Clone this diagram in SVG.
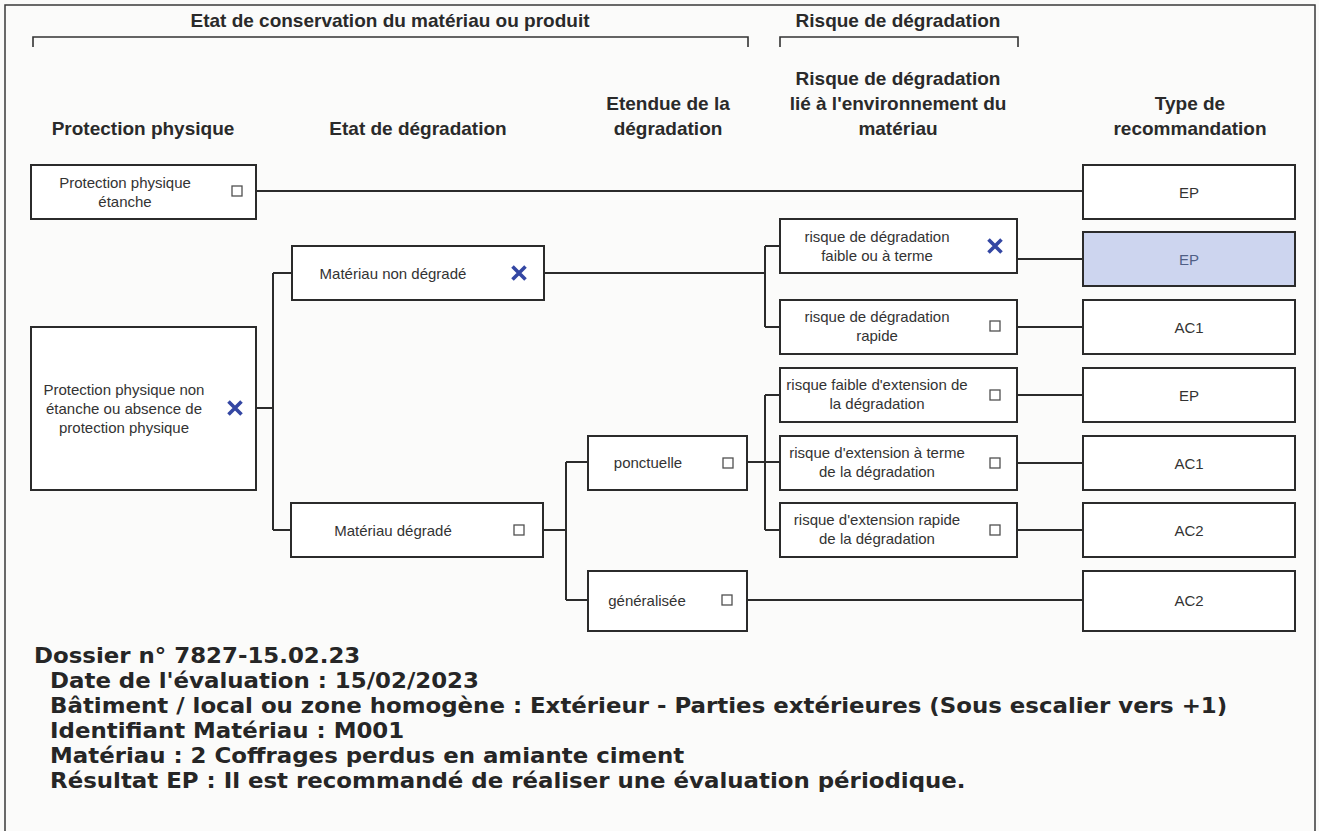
<svg xmlns="http://www.w3.org/2000/svg" width="1319" height="831" viewBox="0 0 1319 831">
  <style>
    .bg { fill: #fbfbfa; }
    .frame { fill: none; stroke: #3a3a3a; stroke-width: 1.5; }
    .box { fill: #ffffff; stroke: #2b2b2b; stroke-width: 2; }
    .box-sel { fill: #cdd5ef; stroke: #2b2b2b; stroke-width: 2; }
    .link { fill: none; stroke: #2b2b2b; stroke-width: 2; }
    .bracket { fill: none; stroke: #333333; stroke-width: 1.6; }
    .hdr { font-family: "Liberation Sans", Arial, sans-serif; font-weight: bold; font-size: 19px; fill: #2a2a2a; text-anchor: middle; }
    .lbl { font-family: "Liberation Sans", Arial, sans-serif; font-size: 15px; fill: #333333; text-anchor: middle; }
    .lbl-sel { fill: #4f5f86; }
    .chk { fill: #ffffff; stroke: #505050; stroke-width: 1.3; }
    .mark { fill: none; stroke: #3447a3; stroke-width: 3.6; stroke-linecap: butt; }
    .info { font-family: "DejaVu Sans", Verdana, sans-serif; font-weight: bold; font-size: 21px; fill: #262626; }
  </style>
  <defs>
    <g id="cb"><rect class="chk" x="-5" y="-5" width="10" height="10"/></g>
    <g id="xm"><path class="mark" d="M-6.5,-6.5 L6.5,6.5 M6.5,-6.5 L-6.5,6.5"/></g>
  </defs>

  <rect class="bg" x="0" y="0" width="1319" height="831"/>
  <!-- page frame (open at the bottom) -->
  <path class="frame" d="M5,831 V5 H1315 V831"/>

  <!-- section headers and brackets -->
  <g id="headers">
    <text class="hdr" x="390" y="27">Etat de conservation du matériau ou produit</text>
    <path class="bracket" d="M33,47 V37 H748 V47"/>
    <text class="hdr" x="898" y="27">Risque de dégradation</text>
    <path class="bracket" d="M780,47 V37 H1018 V47"/>

    <text class="hdr" x="143" y="135">Protection physique</text>
    <text class="hdr" x="418" y="135">Etat de dégradation</text>
    <text class="hdr" x="668" y="110">Etendue de la</text>
    <text class="hdr" x="668" y="135">dégradation</text>
    <text class="hdr" x="898" y="85">Risque de dégradation</text>
    <text class="hdr" x="898" y="110">lié à l'environnement du</text>
    <text class="hdr" x="898" y="135">matériau</text>
    <text class="hdr" x="1190" y="110">Type de</text>
    <text class="hdr" x="1190" y="135">recommandation</text>
  </g>

  <!-- connectors -->
  <g id="connectors">
    <path class="link" d="M256,191 H1083"/>
    <path class="link" d="M256,408 H273 M273,273 V530 M273,273 H292 M273,530 H291"/>
    <path class="link" d="M544,273 H765 M765,246 V327 M765,246 H780 M765,327 H780"/>
    <path class="link" d="M543,530 H566 M566,462 V600 M566,462 H588 M566,600 H588"/>
    <path class="link" d="M747,462 H780 M765,395 V530 M765,395 H780 M765,530 H780"/>
    <path class="link" d="M1017,259 H1083"/>
    <path class="link" d="M1017,327 H1083"/>
    <path class="link" d="M1017,395 H1083"/>
    <path class="link" d="M1017,463 H1083"/>
    <path class="link" d="M1017,530 H1083"/>
    <path class="link" d="M747,600 H1083"/>
  </g>

  <!-- protection physique -->
  <g id="n-etanche">
    <rect class="box" x="31" y="165" width="225" height="54"/>
    <text class="lbl" x="125" y="188">Protection physique</text>
    <text class="lbl" x="125" y="207">étanche</text>
    <use href="#cb" x="237" y="191"/>
  </g>
  <g id="n-non-etanche">
    <rect class="box" x="31" y="327" width="225" height="163"/>
    <text class="lbl" x="124" y="394.5">Protection physique non</text>
    <text class="lbl" x="124" y="413.5">étanche ou absence de</text>
    <text class="lbl" x="124" y="432.5">protection physique</text>
    <use href="#xm" x="235" y="408"/>
  </g>

  <!-- état de dégradation -->
  <g id="n-non-degrade">
    <rect class="box" x="292" y="246" width="252" height="54"/>
    <text class="lbl" x="393" y="278.5">Matériau non dégradé</text>
    <use href="#xm" x="519" y="273"/>
  </g>
  <g id="n-degrade">
    <rect class="box" x="291" y="503" width="252" height="54"/>
    <text class="lbl" x="393" y="535.5">Matériau dégradé</text>
    <use href="#cb" x="519" y="530"/>
  </g>

  <!-- étendue -->
  <g id="n-ponctuelle">
    <rect class="box" x="588" y="436" width="159" height="54"/>
    <text class="lbl" x="648" y="468">ponctuelle</text>
    <use href="#cb" x="728" y="463"/>
  </g>
  <g id="n-generalisee">
    <rect class="box" x="588" y="571" width="159" height="60"/>
    <text class="lbl" x="647" y="605.5">généralisée</text>
    <use href="#cb" x="727" y="600"/>
  </g>

  <!-- risque lié à l'environnement -->
  <g id="n-risque-faible">
    <rect class="box" x="780" y="219" width="237" height="54"/>
    <text class="lbl" x="877" y="241.5">risque de dégradation</text>
    <text class="lbl" x="877" y="260.5">faible ou à terme</text>
    <use href="#xm" x="995" y="246"/>
  </g>
  <g id="n-risque-rapide">
    <rect class="box" x="780" y="300" width="237" height="54"/>
    <text class="lbl" x="877" y="322">risque de dégradation</text>
    <text class="lbl" x="877" y="341">rapide</text>
    <use href="#cb" x="995" y="326"/>
  </g>
  <g id="n-ext-faible">
    <rect class="box" x="780" y="368" width="237" height="54"/>
    <text class="lbl" x="877" y="390">risque faible d'extension de</text>
    <text class="lbl" x="877" y="409">la dégradation</text>
    <use href="#cb" x="995" y="395"/>
  </g>
  <g id="n-ext-terme">
    <rect class="box" x="780" y="436" width="237" height="54"/>
    <text class="lbl" x="877" y="458">risque d'extension à terme</text>
    <text class="lbl" x="877" y="477">de la dégradation</text>
    <use href="#cb" x="995" y="463"/>
  </g>
  <g id="n-ext-rapide">
    <rect class="box" x="780" y="503" width="237" height="54"/>
    <text class="lbl" x="877" y="525">risque d'extension rapide</text>
    <text class="lbl" x="877" y="544">de la dégradation</text>
    <use href="#cb" x="995" y="530"/>
  </g>

  <!-- type de recommandation -->
  <g id="r-1">
    <rect class="box" x="1083" y="165" width="212" height="54"/>
    <text class="lbl" x="1189" y="197.5">EP</text>
  </g>
  <g id="r-2">
    <rect class="box-sel" x="1083" y="232" width="212" height="54"/>
    <text class="lbl lbl-sel" x="1189" y="264.5">EP</text>
  </g>
  <g id="r-3">
    <rect class="box" x="1083" y="300" width="212" height="54"/>
    <text class="lbl" x="1189" y="332.5">AC1</text>
  </g>
  <g id="r-4">
    <rect class="box" x="1083" y="368" width="212" height="54"/>
    <text class="lbl" x="1189" y="400.5">EP</text>
  </g>
  <g id="r-5">
    <rect class="box" x="1083" y="436" width="212" height="54"/>
    <text class="lbl" x="1189" y="468.5">AC1</text>
  </g>
  <g id="r-6">
    <rect class="box" x="1083" y="503" width="212" height="54"/>
    <text class="lbl" x="1189" y="535.5">AC2</text>
  </g>
  <g id="r-7">
    <rect class="box" x="1083" y="571" width="212" height="60"/>
    <text class="lbl" x="1189" y="605.5">AC2</text>
  </g>

  <!-- dossier information (slightly widened lettering) -->
  <g id="info" transform="scale(1.09,1)">
    <text class="info" x="31.2" y="663">Dossier n° 7827-15.02.23</text>
    <text class="info" x="45.9" y="688">Date de l'évaluation : 15/02/2023</text>
    <text class="info" x="45.9" y="713">Bâtiment / local ou zone homogène : Extérieur - Parties extérieures (Sous escalier vers +1)</text>
    <text class="info" x="45.9" y="738">Identifiant Matériau : M001</text>
    <text class="info" x="45.9" y="763">Matériau : 2 Coffrages perdus en amiante ciment</text>
    <text class="info" x="45.9" y="788">Résultat EP : Il est recommandé de réaliser une évaluation périodique.</text>
  </g>
</svg>
